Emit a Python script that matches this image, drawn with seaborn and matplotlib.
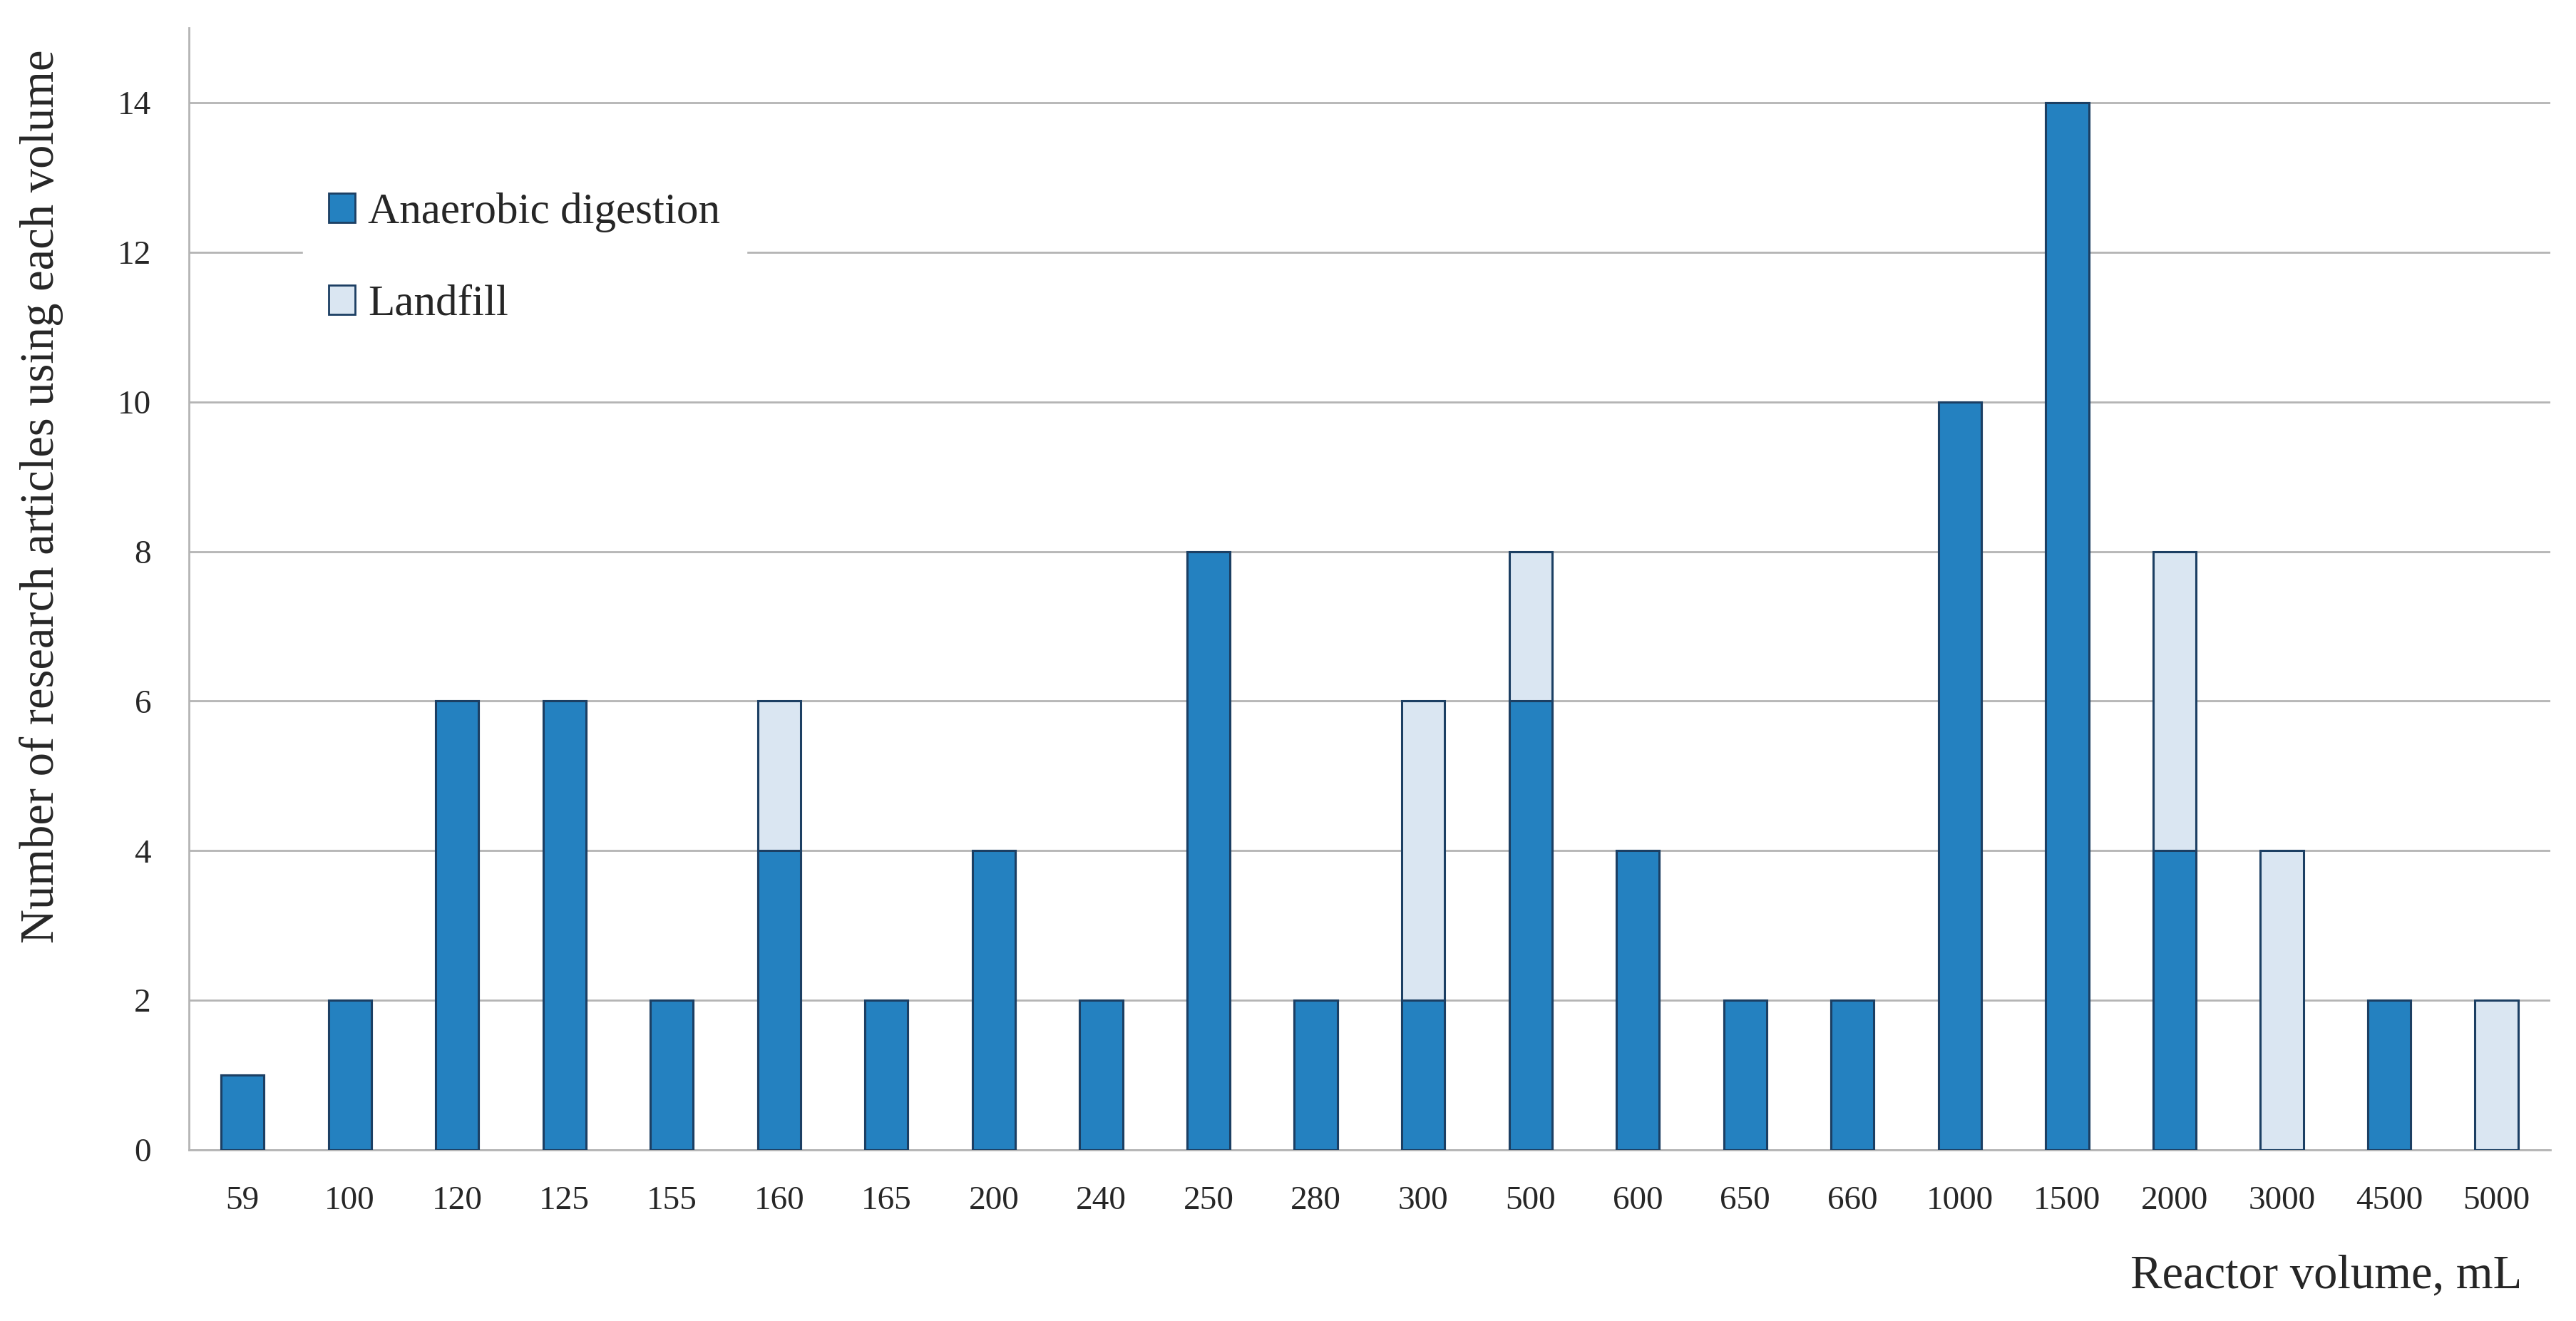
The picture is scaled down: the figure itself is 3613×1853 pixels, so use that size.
import matplotlib
matplotlib.use("Agg")
import matplotlib.pyplot as plt
from matplotlib.patches import Patch
import numpy as np
import pandas as pd
import seaborn as sns

# Datos
volumes = ["59", "100", "120", "125", "155", "160", "165", "200", "240", "250", "280",
           "300", "500", "600", "650", "660", "1000", "1500", "2000", "3000", "4500", "5000"]
anaerobic = [1, 2, 6, 6, 2, 4, 2, 4, 2, 8, 2, 2, 6, 4, 2, 2, 10, 14, 4, 0, 2, 0]
landfill = [0, 0, 0, 0, 0, 2, 0, 0, 0, 0, 0, 4, 2, 0, 0, 0, 0, 0, 4, 4, 0, 2]

df = pd.DataFrame({"volume": volumes, "anaerobic": anaerobic, "landfill": landfill})
df["total"] = df["anaerobic"] + df["landfill"]

dark = "#2481c0"
light = "#dae6f2"
edge = "#1c3f63"
grid_c = "#b4b4b4"

sns.set_style("white")
plt.rcParams["font.family"] = ["Liberation Serif", "DejaVu Serif"]

fig = plt.figure(figsize=(36.13, 18.53), dpi=100)
ax = fig.add_axes([0.0733, 0.1295, 0.9167, 0.8495])

# Barras apiladas: total (relleno claro) y encima la digestion anaerobia
sns.barplot(data=df, x="volume", y="total", color=light, edgecolor=edge,
            linewidth=2.2, width=0.4, saturation=1, ax=ax, zorder=3)
sns.barplot(data=df, x="volume", y="anaerobic", color=dark, edgecolor=edge,
            linewidth=2.2, width=0.4, saturation=1, ax=ax, zorder=4)

ax.set_xlim(-0.5, len(volumes) - 0.5)
ax.set_ylim(0, 15)
ax.set_yticks(np.arange(0, 15, 2))
ax.yaxis.grid(True, color=grid_c, linewidth=2)
ax.set_axisbelow(True)

for s in ["top", "right"]:
    ax.spines[s].set_visible(False)
ax.spines["left"].set_color(grid_c)
ax.spines["left"].set_linewidth(2)
ax.spines["bottom"].set_color(grid_c)
ax.spines["bottom"].set_linewidth(2)

ax.tick_params(axis="y", length=16, width=2, color=grid_c, pad=22, labelsize=34)
ax.tick_params(axis="x", which="major", length=0, pad=36, labelsize=34)
ax.set_xticks(np.arange(-0.5, len(volumes), 1), minor=True)
ax.tick_params(axis="x", which="minor", length=18, width=2, color=grid_c)
ax.set_xlabel("")
ax.set_ylabel("")

fig.text(0.016, 0.624, "Number of research articles using each volume", rotation=90,
         ha="center", va="center", fontsize=48)
fig.text(0.979, 0.034, "Reactor volume, mL", ha="right", va="center", fontsize=48)

handles = [Patch(facecolor=dark, edgecolor=edge, linewidth=2, label="Anaerobic digestion"),
           Patch(facecolor=light, edgecolor=edge, linewidth=2, label="Landfill")]
leg = ax.legend(handles=handles, loc="upper left", bbox_to_anchor=(0.039, 0.896),
                fontsize=44, frameon=True, facecolor="white", edgecolor="white",
                framealpha=1, handlelength=0.6, handleheight=0.65, handletextpad=0.3,
                labelspacing=1.2, borderpad=0.6)
leg.set_zorder(5)

fig.savefig("out.png", dpi=100)
plt.close(fig)
